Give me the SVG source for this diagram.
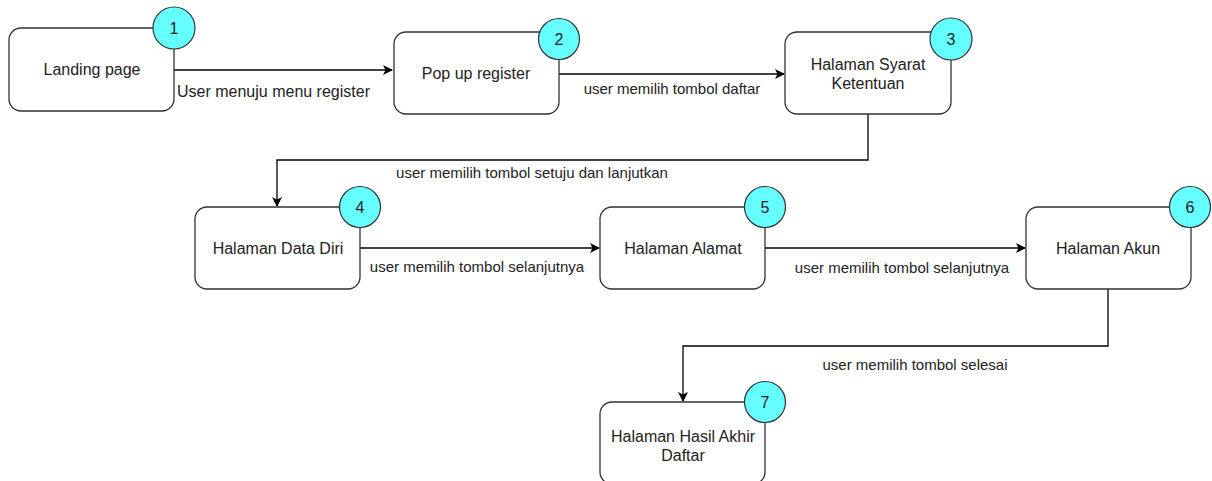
<svg xmlns="http://www.w3.org/2000/svg" width="1212" height="481" viewBox="0 0 1212 481">
<style>
.box{fill:#fff;stroke:#333;stroke-width:1.3}
.badge{fill:#66FFFF;stroke:#333;stroke-width:1.2}
.t{font-family:"Liberation Sans",Arial,sans-serif;font-size:16px;fill:#222;text-anchor:middle}
.n{font-family:"Liberation Sans",Arial,sans-serif;font-size:16px;fill:#222;text-anchor:middle}
.e{font-family:"Liberation Sans",Arial,sans-serif;font-size:15px;fill:#222}
.c{fill:none;stroke:#000;stroke-width:1.3;marker-end:url(#arr)}
</style>
<defs>
<marker id="arr" viewBox="0 0 10 10" refX="9" refY="5" markerWidth="10" markerHeight="10" markerUnits="userSpaceOnUse" orient="auto">
<path d="M0,0 L10,5 L0,10 L2.5,5 Z" fill="#000"/>
</marker>
</defs>
<rect width="1212" height="481" fill="#fff"/>
<g id="connectors">
<path class="c" d="M174,70 L392,70"/>
<text class="e" x="177" y="97" style="font-size:16px">User menuju menu register</text>
<path class="c" d="M559,74 L784,74"/>
<text class="e" x="672" y="94" text-anchor="middle">user memilih tombol daftar</text>
<path class="c" d="M868,114 L868,160 L277,160 L277,206"/>
<text class="e" x="532" y="178" text-anchor="middle">user memilih tombol setuju dan lanjutkan</text>
<path class="c" d="M360,248 L599,248"/>
<text class="e" x="477" y="272" text-anchor="middle">user memilih tombol selanjutnya</text>
<path class="c" d="M765,248 L1025,248"/>
<text class="e" x="902" y="273" text-anchor="middle">user memilih tombol selanjutnya</text>
<path class="c" d="M1108,289 L1108,346 L683,346 L683,401"/>
<text class="e" x="915" y="370" text-anchor="middle">user memilih tombol selesai</text>
</g>
<g id="node1">
<rect class="box" x="9" y="28" width="165" height="83" rx="12"/>
<text class="t" x="92" y="75">Landing page</text>
<circle class="badge" cx="174" cy="28" r="21"/>
<text class="n" x="174" y="34">1</text>
</g>
<g id="node2">
<rect class="box" x="394" y="32" width="165" height="82" rx="12"/>
<text class="t" x="476" y="79">Pop up register</text>
<circle class="badge" cx="559" cy="39" r="20.5"/>
<text class="n" x="559" y="45">2</text>
</g>
<g id="node3">
<rect class="box" x="785" y="32" width="166" height="82" rx="12"/>
<text class="t" x="868" y="70">Halaman Syarat</text>
<text class="t" x="868" y="89">Ketentuan</text>
<circle class="badge" cx="951" cy="39" r="21"/>
<text class="n" x="951" y="45">3</text>
</g>
<g id="node4">
<rect class="box" x="195" y="207" width="165" height="82" rx="12"/>
<text class="t" x="278" y="254">Halaman Data Diri</text>
<circle class="badge" cx="360" cy="207" r="20.5"/>
<text class="n" x="360" y="213">4</text>
</g>
<g id="node5">
<rect class="box" x="600" y="207" width="165" height="82" rx="12"/>
<text class="t" x="683" y="254">Halaman Alamat</text>
<circle class="badge" cx="765" cy="207" r="20.5"/>
<text class="n" x="765" y="213">5</text>
</g>
<g id="node6">
<rect class="box" x="1026" y="207" width="165" height="82" rx="12"/>
<text class="t" x="1108" y="254">Halaman Akun</text>
<circle class="badge" cx="1190" cy="207" r="20.5"/>
<text class="n" x="1190" y="213">6</text>
</g>
<g id="node7">
<rect class="box" x="600" y="402" width="165" height="82" rx="12"/>
<text class="t" x="683" y="442">Halaman Hasil Akhir</text>
<text class="t" x="683" y="461">Daftar</text>
<circle class="badge" cx="765" cy="402" r="20.5"/>
<text class="n" x="765" y="408">7</text>
</g>
</svg>
